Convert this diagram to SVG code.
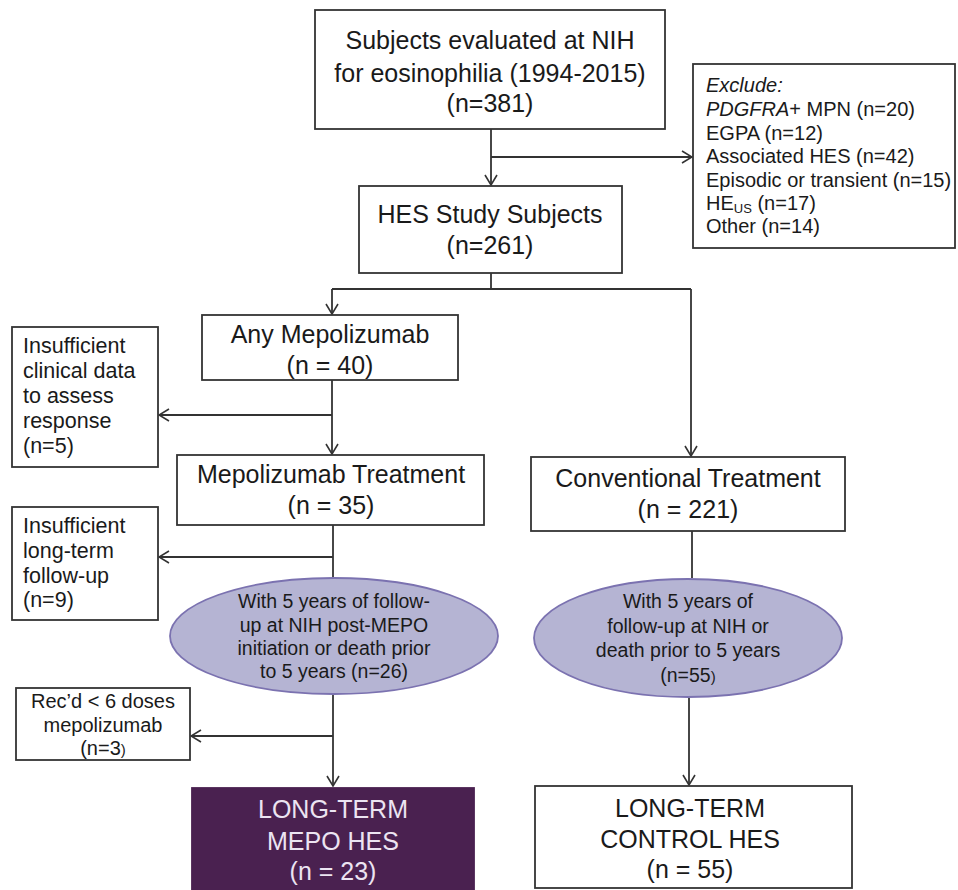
<svg xmlns="http://www.w3.org/2000/svg" width="958" height="890" viewBox="0 0 958 890">
<defs>
<marker id="arr" viewBox="0 0 12 14" markerWidth="12" markerHeight="14" refX="11" refY="7" orient="auto" markerUnits="userSpaceOnUse">
<path d="M1,1 L11,7 L1,13" fill="none" stroke="#333" stroke-width="1.6"/>
</marker>
<style>
.box{fill:#fff;stroke:#333;stroke-width:1.8}
.ell{fill:#b5b4d3;stroke:#7b72b0;stroke-width:1.8}
.dark{fill:#4a2150;stroke:#4a2150;stroke-width:1.8}
.ln{fill:none;stroke:#333;stroke-width:1.8}
.t{font-family:"Liberation Sans",Arial,sans-serif;fill:#1a1a1a}
.c{text-anchor:middle}
.big{font-size:25px}
.mid{font-size:21.5px}
.sm{font-size:20px}
.el{font-size:19.5px}
.w{fill:#ece4f2}
</style>
</defs>
<rect width="958" height="890" fill="#fff"/>
<g id="connectors">
<path class="ln" d="M491,129 V185" marker-end="url(#arr)"/>
<path class="ln" d="M491,157 H692" marker-end="url(#arr)"/>
<path class="ln" d="M491,273 V289"/>
<path class="ln" d="M332,289 H691"/>
<path class="ln" d="M332,289 V314" marker-end="url(#arr)"/>
<path class="ln" d="M691,289 V456" marker-end="url(#arr)"/>
<path class="ln" d="M332,380 V454" marker-end="url(#arr)"/>
<path class="ln" d="M332,415 H159" marker-end="url(#arr)"/>
<path class="ln" d="M333,525 V578"/>
<path class="ln" d="M333,557 H159" marker-end="url(#arr)"/>
<path class="ln" d="M692,531 V578"/>
<path class="ln" d="M333,695 V786" marker-end="url(#arr)"/>
<path class="ln" d="M333,736 H191" marker-end="url(#arr)"/>
<path class="ln" d="M689,698 V785" marker-end="url(#arr)"/>
</g>
<g id="n_subjects">
<rect class="box" x="315" y="10" width="350" height="119"/>
<text class="t c big" x="490" y="49">Subjects evaluated at NIH</text>
<text class="t c big" x="490" y="82">for eosinophilia (1994-2015)</text>
<text class="t c big" x="490" y="112">(n=381)</text>
</g>
<g id="n_exclude">
<rect class="box" x="693" y="64" width="262" height="184"/>
<text class="t sm" x="706" y="92" font-style="italic">Exclude:</text>
<text class="t sm" x="706" y="116"><tspan font-style="italic">PDGFRA</tspan>+ MPN (n=20)</text>
<text class="t sm" x="706" y="140">EGPA (n=12)</text>
<text class="t sm" x="706" y="163">Associated HES (n=42)</text>
<text class="t sm" x="706" y="187">Episodic or transient (n=15)</text>
<text class="t sm" x="706" y="210">HE<tspan font-size="13" dy="3">US</tspan><tspan dy="-3"> (n=17)</tspan></text>
<text class="t sm" x="706" y="233">Other (n=14)</text>
</g>
<g id="n_hes">
<rect class="box" x="359" y="186" width="263" height="87"/>
<text class="t c big" x="490" y="223">HES Study Subjects</text>
<text class="t c big" x="490" y="254">(n=261)</text>
</g>
<g id="n_anymepo">
<rect class="box" x="202" y="315" width="256" height="65"/>
<text class="t c big" x="330" y="343">Any Mepolizumab</text>
<text class="t c big" x="330" y="374">(n = 40)</text>
</g>
<g id="n_insuff1">
<rect class="box" x="12" y="327" width="146" height="140"/>
<text class="t mid" x="23" y="353">Insufficient</text>
<text class="t mid" x="23" y="378">clinical data</text>
<text class="t mid" x="23" y="403">to assess</text>
<text class="t mid" x="23" y="428">response</text>
<text class="t mid" x="23" y="453">(n=5)</text>
</g>
<g id="n_mepotx">
<rect class="box" x="177" y="455" width="307" height="70"/>
<text class="t c big" x="331" y="483">Mepolizumab Treatment</text>
<text class="t c big" x="331" y="514">(n = 35)</text>
</g>
<g id="n_conv">
<rect class="box" x="531" y="457" width="314" height="74"/>
<text class="t c big" x="688" y="487">Conventional Treatment</text>
<text class="t c big" x="688" y="518">(n = 221)</text>
</g>
<g id="n_insuff2">
<rect class="box" x="12" y="507" width="146" height="113"/>
<text class="t mid" x="23" y="533">Insufficient</text>
<text class="t mid" x="23" y="558">long-term</text>
<text class="t mid" x="23" y="583">follow-up</text>
<text class="t mid" x="23" y="607">(n=9)</text>
</g>
<g id="n_ell1">
<ellipse class="ell" cx="334" cy="636" rx="164" ry="58"/>
<text class="t c el" x="334" y="608">With 5 years of follow-</text>
<text class="t c el" x="334" y="632">up at NIH post-MEPO</text>
<text class="t c el" x="334" y="655">initiation or death prior</text>
<text class="t c el" x="334" y="678">to 5 years (n=26)</text>
</g>
<g id="n_ell2">
<ellipse class="ell" cx="688" cy="638" rx="154" ry="59"/>
<text class="t c el" x="688" y="608">With 5 years of</text>
<text class="t c el" x="688" y="633">follow-up at NIH or</text>
<text class="t c el" x="688" y="657">death prior to 5 years</text>
<text class="t c el" x="688" y="682">(n=55<tspan font-size="15">)</tspan></text>
</g>
<g id="n_recd">
<rect class="box" x="16" y="688" width="174" height="72"/>
<text class="t c sm" x="103" y="708">Rec’d &lt; 6 doses</text>
<text class="t c sm" x="103" y="732">mepolizumab</text>
<text class="t c sm" x="103" y="755">(n=3<tspan font-size="15">)</tspan></text>
</g>
<g id="n_ltmepo">
<rect class="dark" x="192" y="788" width="282" height="104"/>
<text class="t c big w" x="333" y="818">LONG-TERM</text>
<text class="t c big w" x="333" y="850">MEPO HES</text>
<text class="t c big w" x="333" y="880">(n = 23)</text>
</g>
<g id="n_ltctrl">
<rect class="box" x="535" y="786" width="317" height="102"/>
<text class="t c big" x="690" y="817">LONG-TERM</text>
<text class="t c big" x="690" y="848">CONTROL HES</text>
<text class="t c big" x="690" y="878">(n = 55)</text>
</g>
</svg>
